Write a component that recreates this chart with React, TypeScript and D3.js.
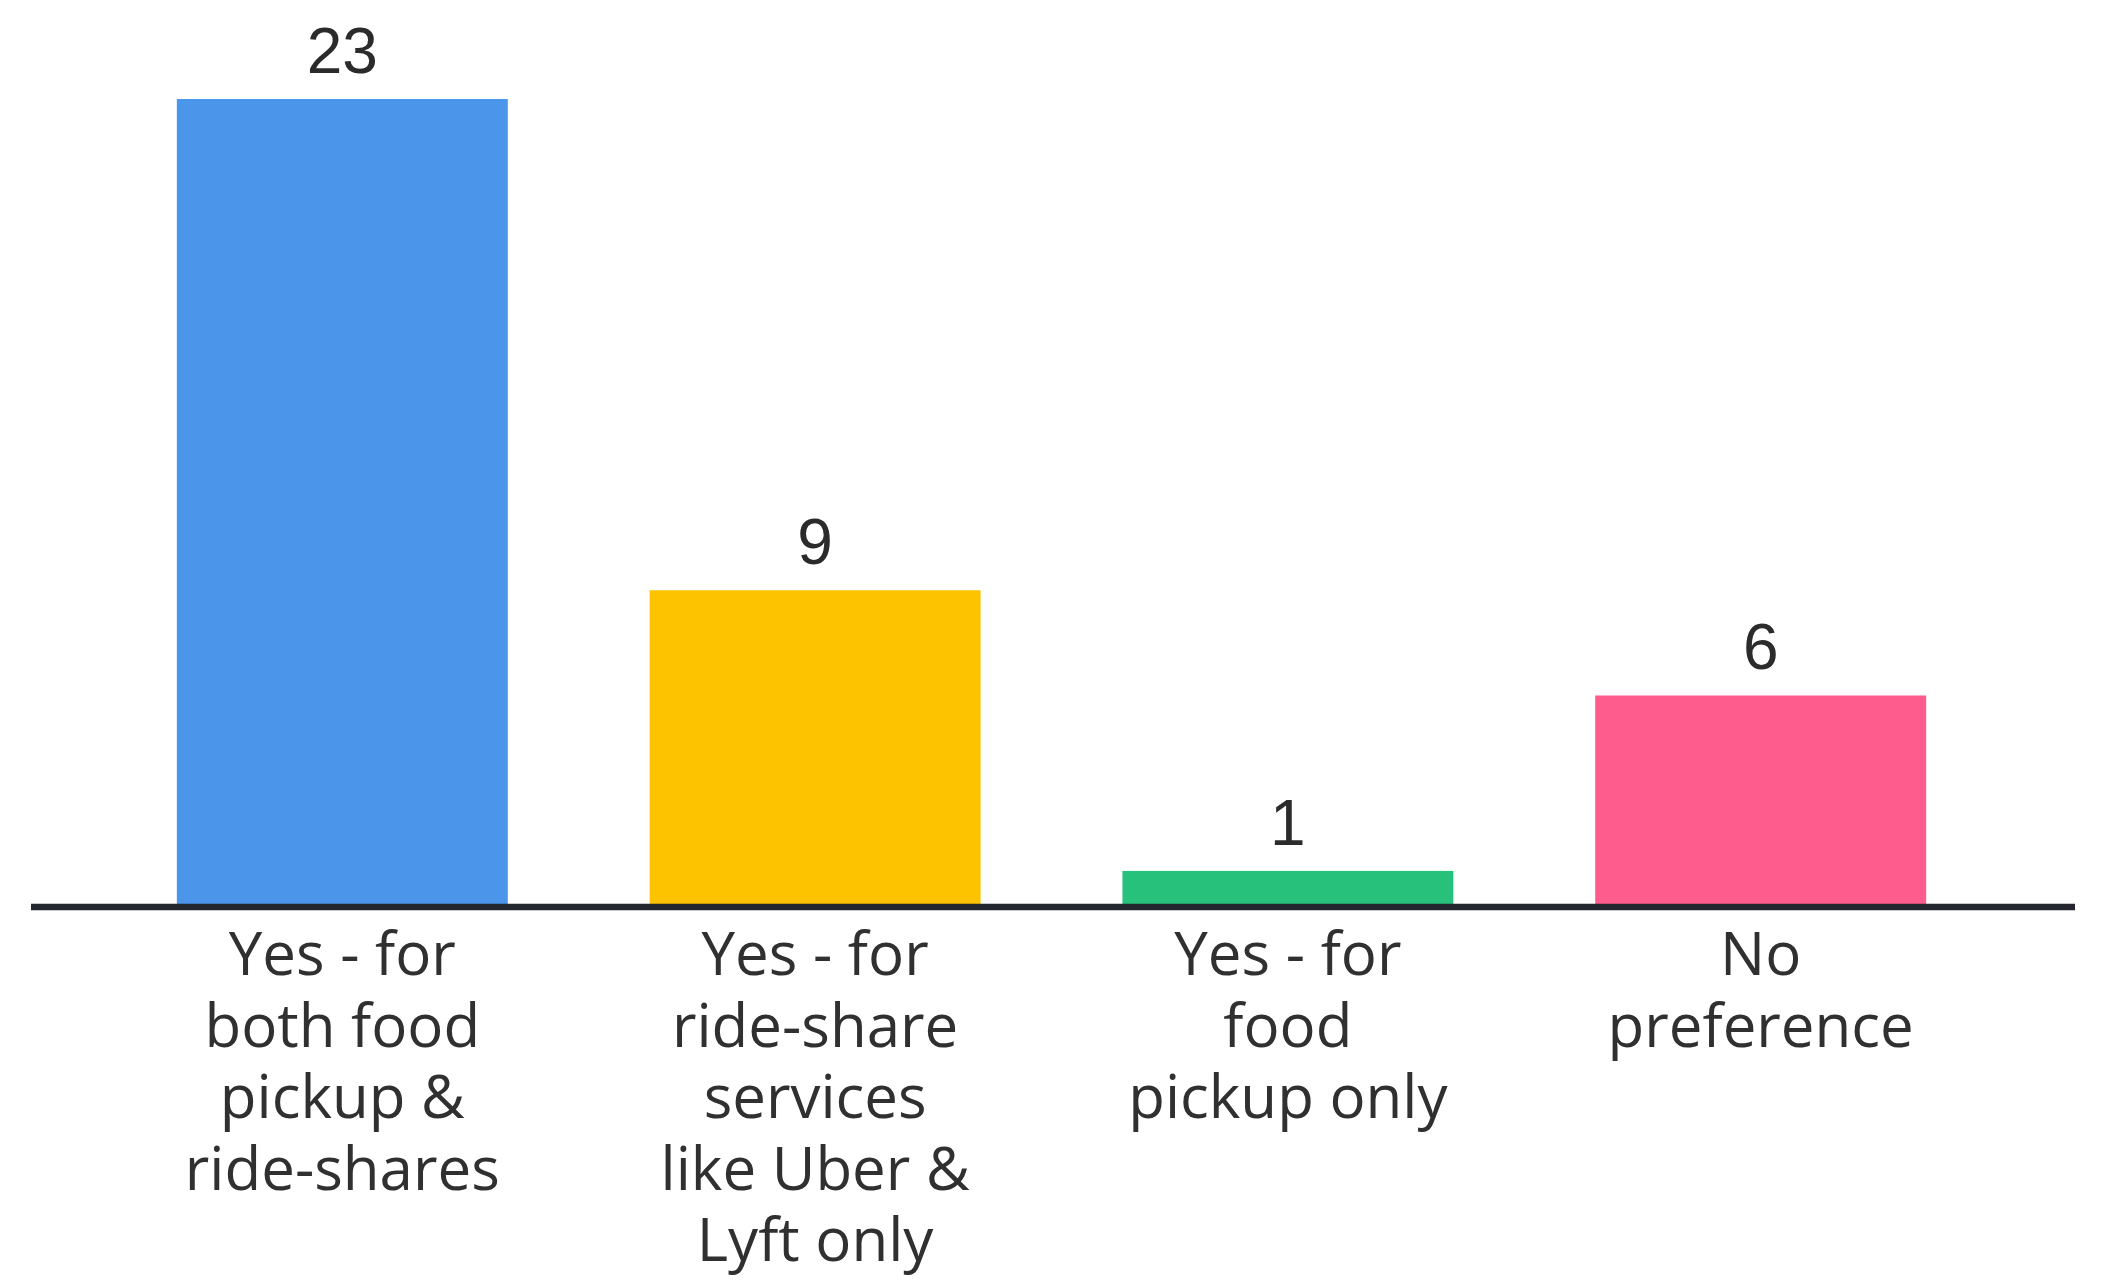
import React from "react";
import * as d3 from "d3";

const categories: string[][] = [
  ["Yes - for", "both food", "pickup &", "ride-shares"],
  ["Yes - for", "ride-share", "services", "like Uber &", "Lyft only"],
  ["Yes - for", "food", "pickup only"],
  ["No", "preference"],
];
const values: number[] = [23, 9, 1, 6];
const colors: string[] = ["#4B96EA", "#FDC300", "#28C17C", "#FF5C8E"];

const W = 2102;
const H = 1283;
const baseline = 906;
const top = 99;

export default function App() {
  const x = d3
    .scaleBand<number>()
    .domain(values.map((_, i) => i))
    .range([35, 2068])
    .paddingInner(0.3)
    .paddingOuter(0.3);
  const y = d3.scaleLinear().domain([0, 23]).range([baseline, top]);

  return (
    <svg
      width={W}
      height={H}
      style={{ position: "absolute", left: 0, top: 0, display: "block", background: "#fff" }}
    >
      {values.map((v, i) => {
        const bx = x(i)!;
        const bw = x.bandwidth();
        return (
          <g key={i}>
            <rect x={bx} y={y(v)} width={bw} height={baseline - y(v)} fill={colors[i]} />
            <text
              x={bx + bw / 2}
              y={y(v) - 26}
              textAnchor="middle"
              fontFamily="Liberation Sans, Arial, sans-serif"
              fontSize={64}
              fill="#2b2b2b"
            >
              {v}
            </text>
            <text
              x={bx + bw / 2}
              y={975}
              textAnchor="middle"
              fontFamily="Open Sans, sans-serif"
              fontSize={60}
              fill="#303030"
            >
              {categories[i].map((line, j) => (
                <tspan key={j} x={bx + bw / 2} y={975 + j * 71.5}>
                  {line}
                </tspan>
              ))}
            </text>
          </g>
        );
      })}
      <line x1={31} x2={2075} y1={baseline + 1} y2={baseline + 1} stroke="#23262e" strokeWidth={6.5} />
    </svg>
  );
}
